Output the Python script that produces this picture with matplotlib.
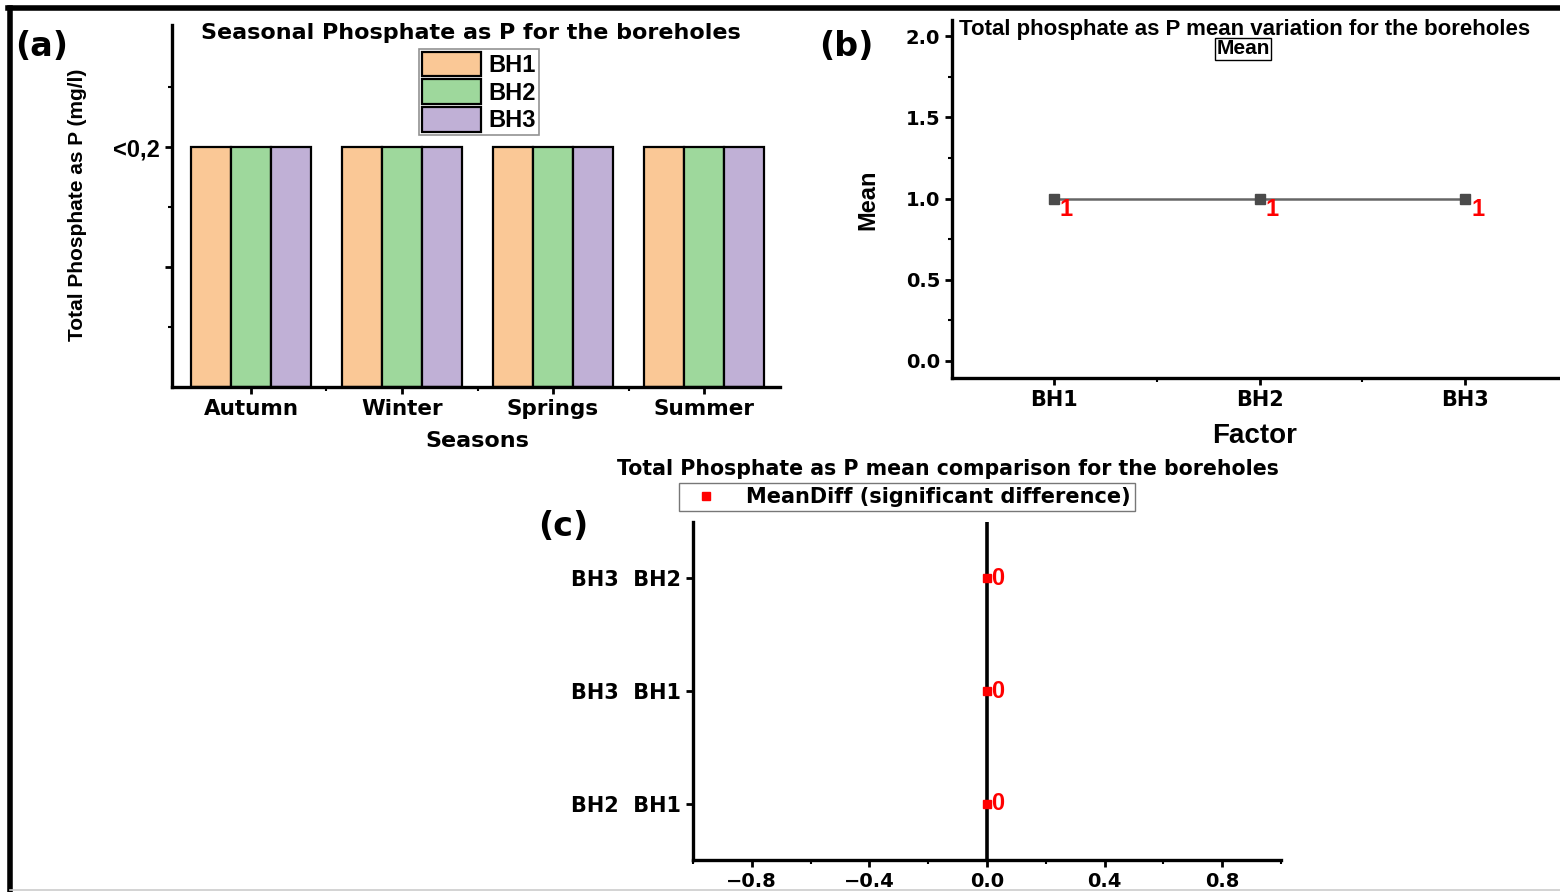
import matplotlib
matplotlib.use("Agg")
import matplotlib.pyplot as plt
from matplotlib.lines import Line2D
from matplotlib.ticker import MultipleLocator, FixedLocator
import numpy as np

# data
seasons = ["Autumn", "Winter", "Springs", "Summer"]
boreholes = ["BH1", "BH2", "BH3"]
phosphate = {"BH1": [0.2, 0.2, 0.2, 0.2],
             "BH2": [0.2, 0.2, 0.2, 0.2],
             "BH3": [0.2, 0.2, 0.2, 0.2]}
bar_colors = ["#FAC896", "#9ED89C", "#C0B0D6"]

factor = ["BH1", "BH2", "BH3"]
means = [1, 1, 1]

pairs = ["BH2  BH1", "BH3  BH1", "BH3  BH2"]
meandiff = [0, 0, 0]

W, H = 1560, 892
def px(x, y):
    return x / W, 1 - y / H

def axrect(l, t, r, b):
    return [l / W, 1 - b / H, (r - l) / W, (b - t) / H]

WIDE = "DejaVu Sans"
NARROW = ["Liberation Sans Narrow", "Liberation Sans", "DejaVu Sans"]
ARIAL = ["Liberation Sans", "DejaVu Sans"]

fig = plt.figure(figsize=(15.6, 8.92), dpi=100)

def style_axes(ax):
    for s in ["top", "right"]:
        ax.spines[s].set_visible(False)
    for s in ["left", "bottom"]:
        ax.spines[s].set_linewidth(2.4)
    ax.tick_params(which="major", direction="out", length=5, width=2)
    ax.tick_params(which="minor", direction="out", length=3, width=1.5)

# ---------- (a) ----------
ax1 = fig.add_axes(axrect(172, 25, 780, 387))
style_axes(ax1)
x = np.arange(len(seasons))
bw = 0.265
for i, bh in enumerate(boreholes):
    ax1.bar(x + (i - 1) * bw, phosphate[bh], bw, color=bar_colors[i],
            edgecolor="black", linewidth=1.6, label=bh)
ax1.set_xlim(-0.523, 3.503)
ax1.set_ylim(0, 0.3017)
ax1.set_xticks(x)
ax1.set_xticklabels(seasons, fontsize=15.5, fontweight="bold", family=WIDE)
ax1.xaxis.set_minor_locator(FixedLocator([0.5, 1.5, 2.5]))
ax1.set_yticks([0.1, 0.2])
ax1.set_yticklabels(["", "<0,2"], fontsize=17, fontweight="bold", family=ARIAL)
ax1.yaxis.set_minor_locator(FixedLocator([0.05, 0.15, 0.25]))
ax1.set_xlabel("Seasons", fontsize=16, fontweight="bold", family=WIDE, va="center")
ax1.xaxis.set_label_coords((477 - 172) / 608, -(441 - 387) / 362)
ax1.set_ylabel("Total Phosphate as P (mg/l)", fontsize=15, fontweight="bold",
               family=NARROW, va="center")
ax1.yaxis.set_label_coords(-(172 - 78) / 608, (387 - 205) / 362)
fig.text(*px(471, 33), "Seasonal Phosphate as P for the boreholes", fontsize=16,
         fontweight="bold", family=WIDE, ha="center", va="center")
leg = ax1.legend(loc="center", bbox_to_anchor=(px(479, 92)), bbox_transform=fig.transFigure,
                 prop={"family": ARIAL, "weight": "bold", "size": 17},
                 handlelength=2.5, handleheight=1.2, handletextpad=0.3,
                 labelspacing=0.12, borderpad=0.12, fancybox=False, edgecolor="#777777")
leg.get_frame().set_linewidth(1.2)
fig.text(*px(42, 47), "(a)", fontsize=24, fontweight="bold", family=WIDE,
         ha="center", va="center")

# ---------- (b) ----------
ax2 = fig.add_axes(axrect(952, 20, 1568, 378))
style_axes(ax2)
xb = np.arange(len(factor))
ax2.plot(xb, means, color="#666666", lw=1.8, marker="s", markersize=7,
         markerfacecolor="#4a4a4a", markeredgecolor="#4a4a4a")
for xi, m in zip(xb, means):
    ax2.annotate(str(m), (xi, m), xytext=(9, -8), textcoords="offset points",
                 color="red", fontsize=17, fontweight="bold", family=ARIAL,
                 ha="center", va="center")
ax2.set_xlim(-0.496, 2.5)
ax2.set_ylim(-0.105, 2.1)
ax2.set_xticks(xb)
ax2.set_xticklabels(factor, fontsize=15, fontweight="bold", family=WIDE)
ax2.xaxis.set_minor_locator(FixedLocator([0.5, 1.5]))
ax2.set_yticks([0, 0.5, 1.0, 1.5, 2.0])
ax2.set_yticklabels(["0.0", "0.5", "1.0", "1.5", "2.0"], fontsize=14,
                    fontweight="bold", family=WIDE)
ax2.yaxis.set_minor_locator(MultipleLocator(0.25))
ax2.set_xlabel("Factor", fontsize=20, fontweight="bold", family=ARIAL, va="center")
ax2.xaxis.set_label_coords((1255 - 952) / 616, -(436 - 378) / 358)
ax2.set_ylabel("Mean", fontsize=17, fontweight="bold", family=NARROW, va="center")
ax2.yaxis.set_label_coords(-(952 - 868) / 616, (378 - 200) / 358)
fig.text(*px(1245, 29), "Total phosphate as P mean variation for the boreholes",
         fontsize=16, fontweight="bold", family=ARIAL, ha="center", va="center")
fig.text(*px(1243, 49), "Mean", fontsize=15, fontweight="bold", family=ARIAL,
         ha="center", va="center",
         bbox=dict(boxstyle="square,pad=0.05", facecolor="white",
                   edgecolor="black", linewidth=1))
fig.text(*px(846, 47), "(b)", fontsize=24, fontweight="bold", family=WIDE,
         ha="center", va="center")

# ---------- (c) ----------
ax3 = fig.add_axes(axrect(693, 522, 1281, 860))
style_axes(ax3)
yc = np.arange(1, len(pairs) + 1)
ax3.axvline(0, color="black", lw=2.6, zorder=1)
ax3.plot(meandiff, yc, ls="none", marker="s", markersize=6, color="red",
         zorder=3, label="MeanDiff (significant difference)")
for yi, d in zip(yc, meandiff):
    ax3.annotate(str(d), (d, yi), xytext=(8, 0), textcoords="offset points",
                 color="red", fontsize=17, fontweight="bold", family=ARIAL,
                 ha="center", va="center")
ax3.set_xlim(-1, 1)
ax3.set_ylim(0.5, 3.5)
ax3.set_yticks(yc)
ax3.set_yticklabels(pairs, fontsize=15, fontweight="bold", family=WIDE)
ax3.set_xticks([-0.8, -0.4, 0.0, 0.4, 0.8])
ax3.set_xticklabels(["\u22120.8", "\u22120.4", "0.0", "0.4", "0.8"], fontsize=14,
                    fontweight="bold", family=WIDE)
ax3.xaxis.set_minor_locator(FixedLocator([-1.0, -0.6, -0.2, 0.2, 0.6, 1.0]))
fig.text(*px(948, 469), "Total Phosphate as P mean comparison for the boreholes",
         fontsize=14.8, fontweight="bold", family=WIDE, ha="center", va="center")
leg3 = ax3.legend(loc="center", bbox_to_anchor=px(907, 497), bbox_transform=fig.transFigure,
                  prop={"family": WIDE, "weight": "bold", "size": 15},
                  handlelength=2.2, handletextpad=0.8, borderpad=0.2,
                  fancybox=False, edgecolor="#555555")
leg3.get_frame().set_linewidth(1)
fig.text(*px(563, 527), "(c)", fontsize=24, fontweight="bold", family=WIDE,
         ha="center", va="center")

# outer frame
fig.add_artist(Line2D([10 / W, 10 / W], [0, 1 - 8 / H], transform=fig.transFigure,
                      color="black", lw=4))
fig.add_artist(Line2D([8 / W, 1], [1 - 8 / H, 1 - 8 / H], transform=fig.transFigure,
                      color="black", lw=4))
fig.add_artist(Line2D([10 / W, 1], [1 - 890 / H, 1 - 890 / H], transform=fig.transFigure,
                      color="#cccccc", lw=1.2))

fig.savefig("out.png", dpi=100)
